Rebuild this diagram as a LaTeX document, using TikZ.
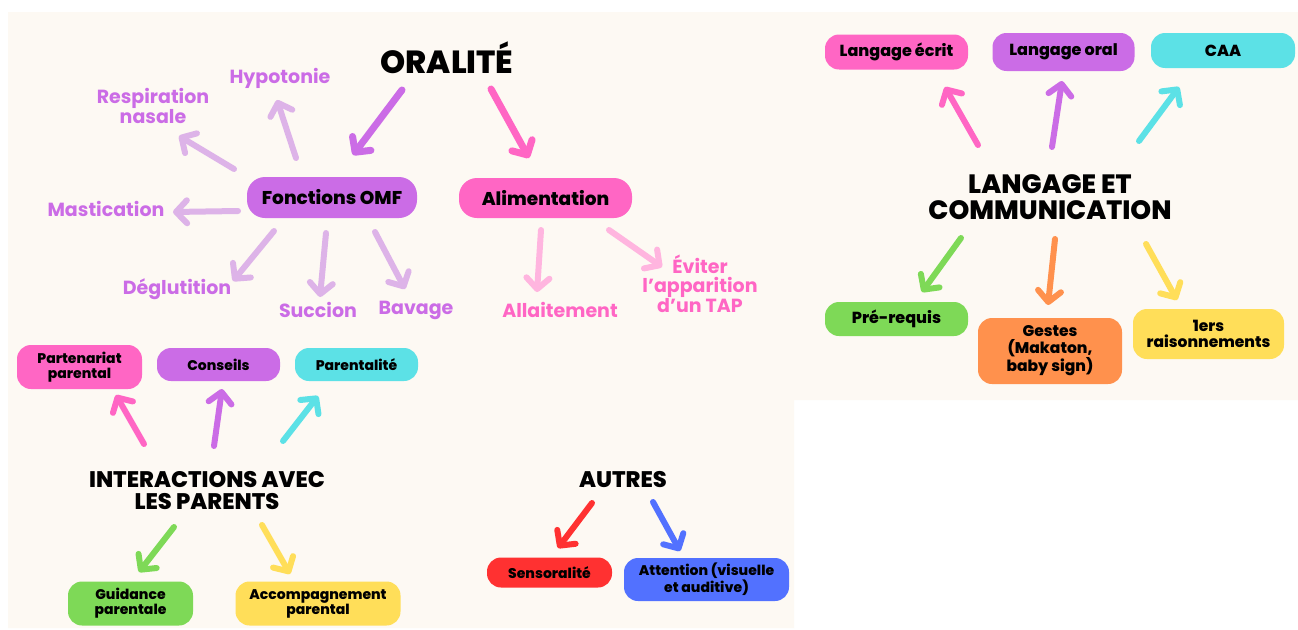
\documentclass[tikz,border=0pt]{standalone}
\usepackage{fontspec}
\setmainfont{Poppins}[BoldFont={Poppins ExtraBold}]
\newfontfamily\leaffont{Poppins}[BoldFont={Poppins Bold}]
\usetikzlibrary{arrows.meta}
\definecolor{cream}{HTML}{FDF9F3}
\definecolor{cpurple}{HTML}{CB6CE6}
\definecolor{cpink}{HTML}{FF66C4}
\definecolor{ccyan}{HTML}{5CE1E6}
\definecolor{cgreen}{HTML}{7ED957}
\definecolor{corange}{HTML}{FF914D}
\definecolor{cyellow}{HTML}{FFDE59}
\definecolor{cred}{HTML}{FF3131}
\definecolor{cblue}{HTML}{5271FF}
\definecolor{lilac}{HTML}{DDB3E8}
\definecolor{lpink}{HTML}{FFB5DF}
\tikzset{
  box/.style={rounded corners=14pt, inner sep=1pt, align=center, text=black, font=\bfseries\fontsize{14}{15}\selectfont},
  title/.style={align=center, text=black, font=\bfseries\fontsize{26}{26}\selectfont},
  leafp/.style={align=center, text=cpurple, font=\leaffont\bfseries\fontsize{19}{20}\selectfont},
  leafk/.style={align=center, text=cpink, font=\leaffont\bfseries\fontsize{19}{19}\selectfont},
  arr/.style={line width=6pt, line cap=round, -{Straight Barb[length=11pt,width=23pt,round]}},
}
\begin{document}
\begin{tikzpicture}[x=1pt,y=-1pt]
\useasboundingbox (0,0) rectangle (1298,629);
\fill[white] (0,0) rectangle (1298,629);
\fill[cream] (8,12) -- (1298,12) -- (1298,400) -- (794,400) -- (794,628) -- (8,628) -- cycle;

% ---------- ORALITE ----------
\node[title, font=\bfseries\fontsize{32}{32}\selectfont] (oral) at (447,58) {ORALITÉ};
\node[box, fill=cpurple, minimum width=170pt, minimum height=41pt, rounded corners=18pt, font=\bfseries\fontsize{18.5}{18}\selectfont] (omf) at (332,197.5) {Fonctions OMF};
\node[box, fill=cpink, minimum width=173pt, minimum height=40pt, rounded corners=18pt, font=\bfseries\fontsize{18.5}{18}\selectfont] (alim) at (545.5,198) {Alimentation};

\node[leafp] (hypo) at (280,78) {Hypotonie};
\node[leafp] (resp) at (153,106) {Respiration\\nasale};
\node[leafp] (mast) at (106,209) {Mastication};
\node[leafp] (degl) at (177,289) {Déglutition};
\node[leafp] (succ) at (318,310) {Succion};
\node[leafp] (bava) at (416,310) {Bavage};
\node[leafk] (alla) at (560,310) {Allaitement};
\node[leafk] (evit) at (700,284) {Éviter\\l’apparition\\d’un TAP};

\coordinate (o1s) at (402,90);  \coordinate (o1e) at (353,155);
\coordinate (o2s) at (491,89);  \coordinate (o2e) at (529,158);
\draw[arr, line width=7pt, cpurple] (o1s) -- (o1e);
\draw[arr, line width=7pt, cpink] (o2s) -- (o2e);

\coordinate (h1) at (296,158); \coordinate (h2) at (277,100);
\coordinate (r1) at (234,169); \coordinate (r2) at (179,136);
\coordinate (m1) at (238,211); \coordinate (m2) at (173,212);
\coordinate (d1) at (274,231); \coordinate (d2) at (233,281);
\coordinate (s1) at (326,233); \coordinate (s2) at (320,297);
\coordinate (b1) at (375,232); \coordinate (b2) at (405,289);
\draw[arr, lilac] (h1) -- (h2);
\draw[arr, lilac] (r1) -- (r2);
\draw[arr, lilac] (m1) -- (m2);
\draw[arr, lilac] (d1) -- (d2);
\draw[arr, lilac] (s1) -- (s2);
\draw[arr, lilac] (b1) -- (b2);

\coordinate (a1) at (541,230); \coordinate (a2) at (537,292);
\coordinate (e1) at (609,230); \coordinate (e2) at (662,267);
\draw[arr, lpink] (a1) -- (a2);
\draw[arr, lpink] (e1) -- (e2);

% ---------- LANGAGE ----------
\node[title, font=\bfseries\fontsize{26.5}{26}\selectfont] (lang) at (1050,197) {LANGAGE ET\\COMMUNICATION};
\node[box, fill=cpink, minimum width=143pt, minimum height=35pt, font=\bfseries\fontsize{16}{16}\selectfont] (lecr) at (896.5,52) {Langage écrit};
\node[box, fill=cpurple, minimum width=142pt, minimum height=38pt, font=\bfseries\fontsize{16}{16}\selectfont] (lora) at (1063.5,52) {Langage oral};
\node[box, fill=ccyan, minimum width=144pt, minimum height=35pt, font=\bfseries\fontsize{16}{16}\selectfont] (caa) at (1223,50.5) {CAA};
\node[box, fill=cgreen, minimum width=143pt, minimum height=34pt, font=\bfseries\fontsize{16}{16}\selectfont] (prer) at (896.5,319) {Pré-requis};
\node[box, fill=corange, minimum width=144pt, minimum height=66pt, font=\bfseries\fontsize{15.5}{16.5}\selectfont] (gest) at (1050,351) {Gestes\\(Makaton,\\baby sign)};
\node[box, fill=cyellow, minimum width=151pt, minimum height=50pt, font=\bfseries\fontsize{15.5}{16}\selectfont] (rais) at (1208.5,334) {1ers\\raisonnements};

\coordinate (l1s) at (978,145);  \coordinate (l1e) at (945,87);
\coordinate (l2s) at (1052,147); \coordinate (l2e) at (1062,81);
\coordinate (l3s) at (1139,141); \coordinate (l3e) at (1179,87);
\coordinate (l4s) at (961,238);  \coordinate (l4e) at (922,292);
\coordinate (l5s) at (1055,239); \coordinate (l5e) at (1048,305);
\coordinate (l6s) at (1146,244); \coordinate (l6e) at (1177,300);
\draw[arr, cpink] (l1s) -- (l1e);
\draw[arr, cpurple] (l2s) -- (l2e);
\draw[arr, ccyan] (l3s) -- (l3e);
\draw[arr, cgreen] (l4s) -- (l4e);
\draw[arr, corange] (l5s) -- (l5e);
\draw[arr, cyellow] (l6s) -- (l6e);

% ---------- INTERACTIONS ----------
\node[title, font=\bfseries\fontsize{22.5}{22}\selectfont] (inter) at (207,491) {INTERACTIONS AVEC\\LES PARENTS};
\node[box, fill=cpink, minimum width=125pt, minimum height=44pt] (part) at (79.5,367) {Partenariat\\parental};
\node[box, fill=cpurple, minimum width=123pt, minimum height=33pt] (cons) at (218.5,364.5) {Conseils};
\node[box, fill=ccyan, minimum width=123pt, minimum height=33pt] (pare) at (356.5,364.5) {Parentalité};
\node[box, fill=cgreen, minimum width=125pt, minimum height=44pt] (guid) at (130.5,603.5) {Guidance\\parentale};
\node[box, fill=cyellow, minimum width=165pt, minimum height=44pt] (acco) at (318,603.5) {Accompagnement\\parental};

\coordinate (i1s) at (144,444); \coordinate (i1e) at (116,395);
\coordinate (i2s) at (214,446); \coordinate (i2e) at (222,389);
\coordinate (i3s) at (283,441); \coordinate (i3e) at (318,396);
\coordinate (i4s) at (174,527); \coordinate (i4e) at (139,572);
\coordinate (i5s) at (262,525); \coordinate (i5e) at (290,574);
\draw[arr, cpink] (i1s) -- (i1e);
\draw[arr, cpurple] (i2s) -- (i2e);
\draw[arr, ccyan] (i3s) -- (i3e);
\draw[arr, cgreen] (i4s) -- (i4e);
\draw[arr, cyellow] (i5s) -- (i5e);

% ---------- AUTRES ----------
\node[title, font=\bfseries\fontsize{22.5}{22}\selectfont] (autr) at (623,480) {AUTRES};
\node[box, fill=cred, minimum width=125pt, minimum height=30pt] (sens) at (549.5,572.5) {Sensoralité};
\node[box, fill=cblue, minimum width=165pt, minimum height=43pt] (atte) at (706.5,579.5) {Attention (visuelle\\et auditive)};

\coordinate (u1s) at (592,503); \coordinate (u1e) at (558,548);
\coordinate (u2s) at (653,502); \coordinate (u2e) at (680,551);
\draw[arr, cred] (u1s) -- (u1e);
\draw[arr, cblue] (u2s) -- (u2e);
\end{tikzpicture}
\end{document}
